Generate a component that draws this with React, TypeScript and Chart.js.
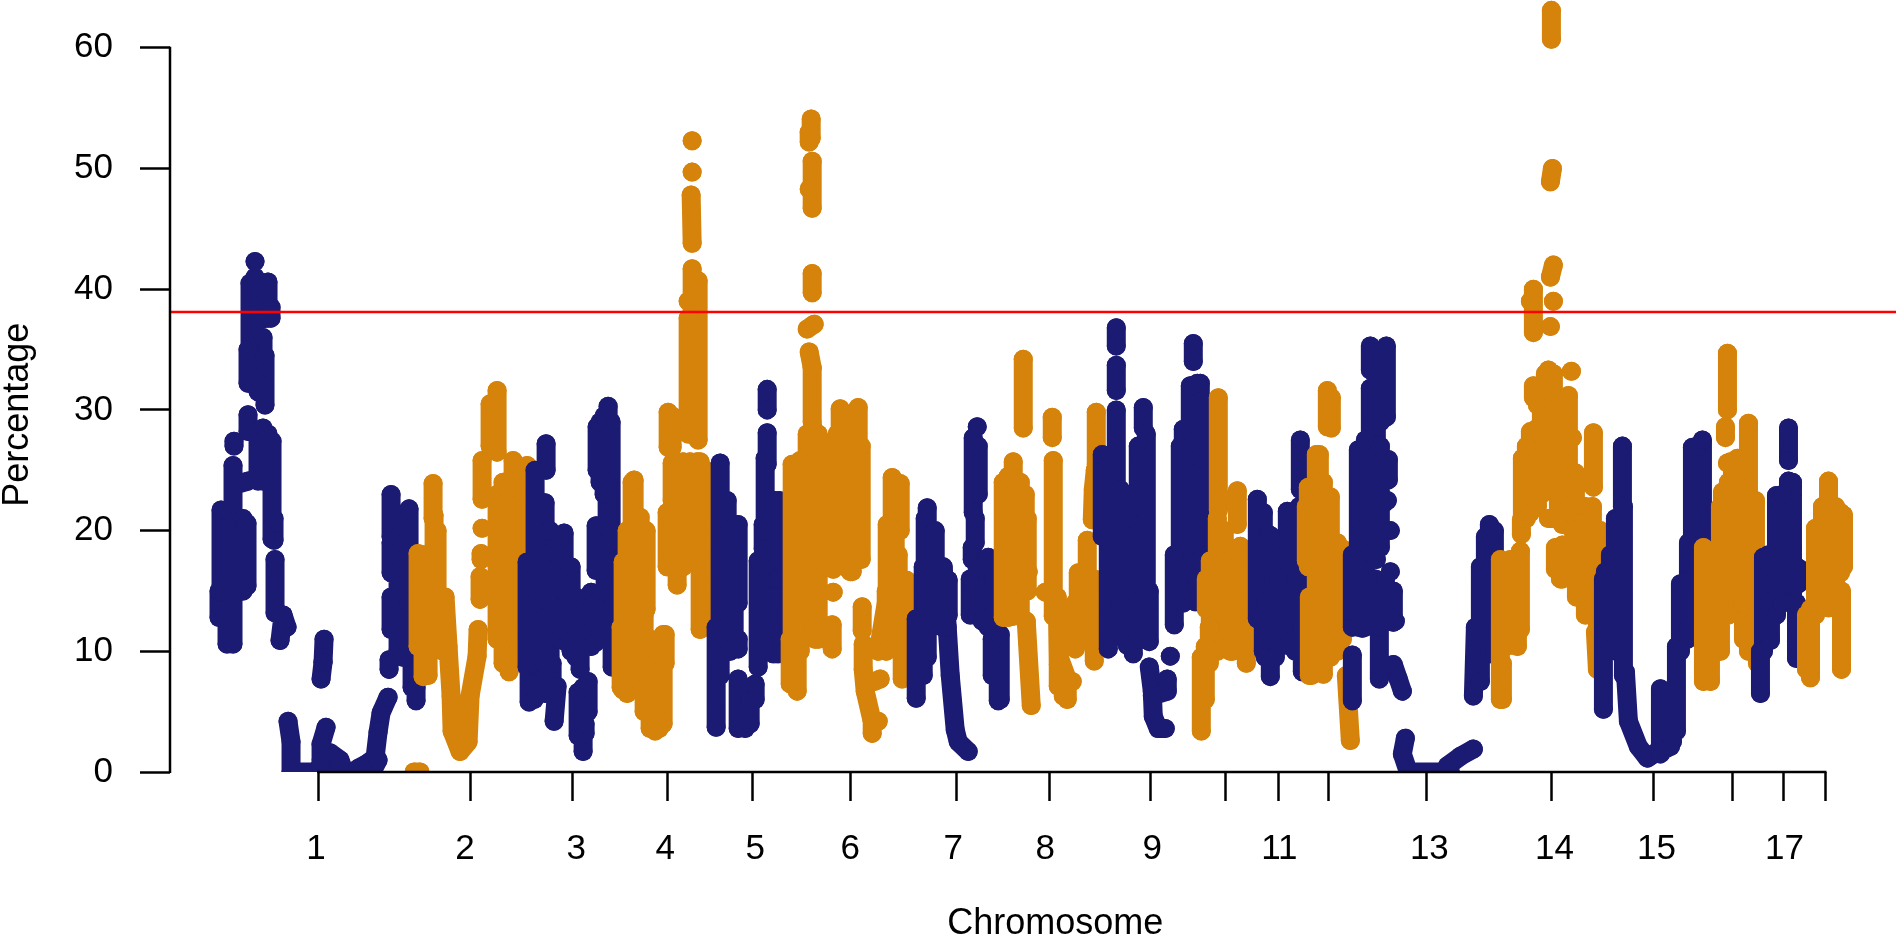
import React, { useEffect, useRef } from "react";
import { Chart, registerables } from "chart.js";

Chart.register(...registerables);

const chrTickPositions = [318, 470, 572, 667, 752, 850, 956, 1049, 1150, 1225, 1278, 1328, 1426, 1551, 1653, 1732, 1783, 1825];
const chrLabelPositions = [316, 465, 576, 665, 755, 850, 953, 1045, 1152, 1279, 1429, 1554, 1656, 1784];
const chrLabels = ["1", "2", "3", "4", "5", "6", "7", "8", "9", "11", "13", "14", "15", "17"];
const percentTicks = [0, 10, 20, 30, 40, 50, 60];
const threshold = 38.1;
const NAVY = "#1C1B73";
const ORANGE = "#D5830B";

// Each chromosome: runs of position,percentage pairs.
const chr1 = [
  [219, 12.8, 219, 15], [221, 15, 221, 21.7], [227, 10.6, 227, 21.7], [233, 10.6, 233, 25.4], [234, 27, 234, 27.4],
  [238, 14.9, 238, 21], [243, 15, 243, 21], [247, 15.4, 247, 20.6], [236, 23.8, 248, 24.1], [258, 24.1, 258, 28], [263, 24.1, 263, 28.5],
  [268, 24, 268, 28], [272, 19.3, 272, 27.4], [275, 17.6, 275, 13.2, 283, 13, 280, 10.9], [283, 13, 287, 12], [274, 19.2, 274, 21],
  [250, 33, 250, 40.5], [255, 32.5, 255, 41], [255, 42.3], [262, 37.5, 262, 40], [268, 37.6, 268, 40.6], [271, 37.6, 271, 38.5],
  [248, 32.2, 248, 35], [258, 31.5, 258, 36], [263, 32, 263, 36], [265, 30.4, 265, 34.5], [248, 28.2, 248, 29.6],
  [291, 0, 291, 2.5, 288, 4.2], [291, 0, 370, 0], [320, 0.5, 330, 1.6, 340, 1, 342, 0.5], [321, 1, 321, 2.3, 326, 3.7],
  [321, 7.7, 323, 9.1], [323, 9.1, 324, 11], [358, 0.3, 367, 0.7, 375, 1.2, 378, 3.3, 381, 4.9, 388, 6.2], [372, 0, 378, 1],
  [391, 19.5, 391, 23], [391, 16.5, 391, 19], [391, 11.8, 391, 14.5], [389, 8.5, 389, 9.3], [398, 10, 398, 19.5], [403, 9.5, 403, 19],
  [409, 14, 409, 21.8], [412, 7, 412, 14], [416, 5.9, 416, 7],
];
const chr2 = [
  [414, 0, 420, 0], [433, 21, 433, 23.9], [434, 14, 434, 21.3], [418, 10.4, 418, 18.1], [423, 7.9, 423, 18], [428, 8, 428, 18], [437, 10.5, 437, 20],
  [445, 14.5, 448, 10.4, 451, 6.3, 452, 3.4, 460, 1.7, 468, 2.5, 470, 6.3, 477, 9.6, 478, 11.8], [443, 10, 443, 14.5], [480, 14.3, 480, 16.2], [481, 17.6, 481, 18.1], [482, 20.2],
  [482, 22.6, 482, 25.8], [490, 27, 490, 30.5], [497, 26.5, 497, 31.6], [497, 11, 497, 23], [503, 9, 503, 24], [509, 8.3, 509, 23.5], [513, 22, 513, 25.8],
  [516, 11, 516, 24], [522, 12, 522, 25], [527, 18, 527, 25.4],
];
const chr3 = [
  [546, 25, 546, 27.2], [535, 14, 535, 25], [545, 18, 545, 22.3], [547, 16, 547, 20], [564, 15, 564, 19.8], [527, 8.7, 527, 17.4], [535, 8.7, 535, 14], [543, 8.5, 543, 18],
  [550, 9, 550, 20], [529, 5.8, 529, 9], [534, 6, 534, 9], [554, 4.2, 557, 7.1], [552, 6.4, 552, 9], [545, 6.5, 545, 9], [558, 11, 558, 18], [565, 10.8, 565, 15], [571, 10, 571, 17],
  [576, 9.5, 576, 14.5], [560, 11, 560, 12], [580, 8.5, 580, 11.5], [578, 3, 578, 6.6], [583, 1.7, 583, 7], [588, 5, 588, 7.5], [585, 3.2, 585, 4],
  [591, 10.4, 591, 14.9], [595, 10.7, 595, 14], [596, 16.7, 596, 20.4], [605, 15, 605, 20.5], [597, 25, 597, 28.6], [600, 24, 600, 29], [604, 23, 604, 29.5], [608, 21, 608, 30.3], [611, 19, 611, 29],
  [607, 19, 607, 24], [612, 8.7, 612, 20],
];
const chr4 = [
  [621, 7, 621, 12], [623, 6.8, 623, 17.4], [627, 6.5, 627, 20], [632, 8, 632, 24], [634, 18, 634, 24.2], [640, 10, 640, 21.1], [646, 13.5, 646, 20], [644, 5, 644, 13],
  [650, 3.6, 650, 11], [655, 3.4, 655, 9], [659, 3.6, 659, 8], [663, 4, 663, 11.4], [665, 9, 665, 11.4], [668, 26.9, 668, 29.8], [672, 26.9, 672, 29.5], [672, 22.5, 672, 25.6],
  [667, 17, 667, 21.5], [675, 17, 675, 25], [677, 15.5, 677, 17], [683, 17, 683, 25.7], [690, 18, 690, 25.7], [697, 18, 697, 25.7], [700, 11.8, 700, 25.7], [705, 13, 705, 25],
  [692, 52.3], [692, 49.7], [691, 47.8, 692, 43.8], [692, 28, 692, 41.7], [698, 27.5, 698, 40.7], [688, 28, 688, 37.6], [688, 39],
];
const chr5 = [
  [720, 8, 720, 25.6], [716, 3.7, 716, 12], [727, 10, 727, 22.5], [734, 11, 734, 20], [738, 14, 738, 20.5], [730, 10, 730, 20], [738, 10.2, 738, 11], [738, 3.6, 738, 7.7], [745, 3.6, 745, 5],
  [750, 4, 750, 6], [755, 6, 755, 7.3], [758, 8.7, 758, 17.5], [770, 12.9, 770, 17.8], [773, 9.8, 773, 16], [778, 9.8, 778, 16], [762, 12, 762, 17], [763, 18.5, 763, 20.5],
  [765, 20, 765, 26], [767, 25.5, 767, 28.1], [767, 30, 767, 31.7], [775, 18, 775, 22.5], [779, 16, 779, 22.5],
];
const chr6 = [
  [790, 7.3, 790, 11], [797, 6.7, 797, 11], [792, 10, 792, 25.5], [800, 10, 800, 25.8], [807, 12, 807, 28], [813, 12, 813, 28.5], [818, 11, 818, 28], [815, 11, 815, 12],
  [812, 29, 812, 33.5], [809, 34.8, 812, 33.5], [807, 36.7, 814, 37.1], [812, 39.7, 812, 41.3], [812, 46.7, 812, 50.6], [809, 48.3], [811, 52.5, 811, 54.1], [809, 52.2, 809, 53],
  [840, 18, 840, 30.1], [858, 18, 858, 30.2], [837, 20, 837, 28], [845, 17, 845, 28], [850, 16.6, 850, 26], [852, 16.6, 852, 28], [861, 17.6, 861, 27], [833, 16.8, 833, 18],
  [827, 17, 827, 21], [833, 14.9], [832, 12.2, 832, 10.2], [862, 13.7, 862, 11.7], [863, 10.6, 863, 8.5, 865, 6.7, 872, 4.2, 872, 3.2], [872, 4.2, 878, 4.2], [880, 7.7, 874, 7.5],
  [892, 18, 892, 24.4], [900, 20, 900, 23.9], [887, 13, 887, 20.5], [895, 13, 895, 20], [906, 11, 906, 15.9], [898, 12.4, 898, 18], [886, 10, 886, 15], [878, 10, 886, 14], [902, 7.7, 902, 12],
];
const chr7 = [
  [927, 9.5, 927, 21.9], [925, 14, 925, 21], [931, 12, 931, 20], [935, 13.9, 935, 20], [943, 17, 947, 12, 950, 8, 955, 3.5, 958, 2.5, 968, 1.7], [948, 13, 948, 15.9], [942, 12, 942, 17],
  [916, 6.1, 916, 12.7], [923, 8, 923, 17], [977, 28.6], [973, 21.5, 973, 27.7], [978, 23, 978, 27], [975, 19, 975, 21], [972, 17.6, 972, 18.6], [970, 13, 970, 16],
  [977, 13, 977, 17], [982, 12.5, 982, 17], [988, 12, 988, 17.8], [993, 11, 993, 16], [992, 8, 992, 11], [998, 5.9, 998, 9], [1000, 6, 1000, 11.4],
];
const chr8 = [
  [1003, 12.8, 1003, 24], [1008, 12.8, 1008, 24.5], [1013, 12.9, 1013, 25.7], [1020, 13, 1020, 24], [1025, 15, 1025, 23], [1027, 15, 1027, 21], [1028, 16.6],
  [1026, 12.5, 1031, 5.5], [1023, 28.5, 1023, 34.2], [1052, 27.7, 1052, 29.4], [1053, 12.9, 1053, 25.8], [1045, 14.9], [1057, 14.5, 1058, 8.9, 1058, 7.1], [1059, 9.5, 1067, 7.7, 1067, 6], [1072, 7.5], [1063, 6.3],
  [1078, 14, 1078, 16.5], [1086, 14, 1086, 15.5], [1075, 10.2, 1075, 14], [1087, 12.5, 1087, 19.2], [1094, 9.2, 1094, 16], [1092, 20.9, 1093, 23.4, 1095, 25], [1096, 25.5, 1096, 29.8],
];
const chr9 = [
  [1102, 19.5, 1102, 26.3], [1110, 20, 1110, 25], [1108, 10.2, 1108, 25.3], [1116, 36.8, 1116, 35.3], [1116, 33.7, 1116, 31.6], [1116, 12, 1116, 30], [1120, 14, 1120, 23.4],
  [1143, 28.5, 1143, 30.2], [1138, 14, 1138, 27], [1146, 14, 1146, 28], [1133, 9.8, 1133, 22], [1141, 11, 1141, 26], [1149, 10.8, 1149, 15], [1127, 10.5, 1127, 21],
  [1149, 8.7, 1152, 6.7, 1153, 4.6, 1158, 3.6, 1165, 3.6], [1152, 6.3, 1167, 6.7, 1167, 7.7], [1170, 9.6], [1174, 12.2, 1174, 18], [1193, 34, 1193, 35.5], [1192, 28, 1192, 32], [1200, 26, 1200, 32.2],
  [1183, 14, 1183, 28.4], [1190, 15, 1190, 32], [1197, 16, 1197, 32.2], [1180, 15, 1180, 27], [1195, 14.1], [1200, 17.5, 1200, 26],
];
const chr10 = [
  [1218, 21.7, 1218, 31], [1217, 10, 1217, 21], [1210, 12, 1210, 17.5], [1206, 13.5, 1206, 16], [1201, 3.4, 1201, 9.5], [1205, 6, 1205, 10.4], [1209, 9, 1209, 12],
  [1230, 10, 1230, 18], [1224, 11, 1224, 20], [1237, 20.5, 1237, 23.3], [1237, 13, 1237, 18], [1240, 14, 1240, 18.7], [1246, 9, 1246, 18], [1232, 10, 1232, 18.5],
];
const chr11 = [
  [1257, 12.7, 1257, 22.6], [1263, 10, 1263, 21.5], [1268, 12, 1268, 19.7], [1270, 7.9, 1270, 19.6], [1265, 9.5, 1265, 14], [1275, 9.5, 1275, 12], [1278, 11, 1278, 16], [1287, 10.5, 1287, 21.6],
  [1283, 12, 1283, 18], [1295, 10, 1295, 20], [1302, 8.3, 1302, 12], [1300, 23.4, 1300, 27.5], [1299, 15, 1299, 22],
];
const chr12 = [
  [1327, 28.6, 1327, 31.6], [1331, 28.5, 1331, 31], [1319, 24, 1319, 26.3], [1308, 17, 1308, 23.6], [1306, 17.5, 1306, 22], [1316, 10, 1316, 26.3], [1323, 9, 1323, 24], [1330, 9.5, 1330, 22.8],
  [1337, 10, 1337, 19], [1342, 11, 1342, 18.5], [1311, 8, 1311, 14], [1309, 8, 1309, 14.5], [1323, 8.1, 1323, 9], [1346, 8, 1350, 2.6],
];
const chr13 = [
  [1352, 5.9, 1352, 9.7], [1352, 12, 1352, 18], [1362, 11.9, 1362, 20], [1358, 12, 1358, 26.7], [1365, 12, 1365, 27.5], [1370, 18, 1370, 31.8], [1370, 33.3, 1370, 35.3], [1376, 27, 1376, 32],
  [1386, 29.4, 1386, 35.3], [1380, 29, 1380, 32], [1388, 24.2, 1388, 25.9], [1380, 18.6, 1380, 27], [1380, 22, 1387, 22.5], [1390, 20], [1376, 17.6], [1390, 16.6], [1375, 12.4, 1375, 16],
  [1385, 13, 1385, 16], [1393, 12.4, 1393, 15], [1395, 12.5], [1379, 7.7, 1379, 12], [1393, 8.9, 1398, 7.7, 1402, 6.7], [1405, 2.8, 1402, 1.5, 1408, 0, 1450, 0], [1447, 0.5, 1460, 1.3, 1473, 1.9],
  [1473, 6.3, 1475, 12], [1480, 7.5, 1480, 17], [1485, 9.8, 1485, 19.5], [1489, 9.8, 1489, 20.5], [1494, 9.8, 1494, 20],
];
const chr14 = [
  [1500, 6, 1500, 17.6], [1502, 6, 1502, 9], [1510, 10.5, 1510, 17.6], [1517, 10.4, 1517, 17.5], [1520, 11.8, 1520, 18.3], [1521, 19.7, 1521, 20.9], [1522, 21, 1522, 26], [1526, 21, 1526, 27], [1530, 21.5, 1530, 28.2],
  [1537, 22, 1537, 28.5], [1541, 23, 1541, 31], [1545, 23.5, 1545, 33], [1548, 23.8, 1548, 33.3], [1533, 32, 1533, 31], [1537, 30.4], [1550, 32.2], [1553, 26.5, 1553, 33], [1556, 26.5, 1556, 30], [1571, 33.2], [1568, 25, 1568, 31.2], [1572, 27.7], [1562, 20.5, 1562, 29], [1565, 20.5, 1565, 27], [1558, 21, 1558, 23],
  [1548, 21, 1557, 21], [1560, 16], [1555, 16.8, 1555, 18.6], [1562, 16, 1562, 18.8], [1572, 20, 1572, 24], [1575, 20, 1575, 24.8], [1576, 14.5, 1576, 22], [1581, 14.9, 1581, 22], [1585, 13, 1585, 22], [1592, 13, 1592, 22],
  [1593, 23.6, 1593, 28.1], [1597, 8.5, 1595, 11.6], [1597, 11, 1597, 20], [1600, 13, 1600, 20], [1533, 36.4, 1533, 40], [1530, 39], [1550, 36.9], [1553, 39], [1550, 41, 1553, 42], [1552, 50, 1550, 48.9], [1551, 60.7, 1551, 63.1],
];
const chr15 = [
  [1622, 22, 1622, 27], [1615, 11, 1615, 21], [1610, 10, 1610, 18], [1605, 12, 1605, 16.6], [1603, 5.2, 1603, 16], [1618, 10, 1618, 21], [1623, 8, 1623, 22], [1625, 8.3, 1628, 4.2, 1638, 2.1, 1647, 1.15, 1657, 1.7],
  [1660, 1.5, 1660, 6.9], [1667, 2, 1667, 6], [1672, 2.5, 1672, 5], [1670, 2.1], [1676, 3.4, 1676, 10.4], [1680, 10, 1680, 15.6], [1687, 11, 1687, 16], [1692, 16, 1692, 26.9], [1697, 17, 1697, 27], [1702, 17, 1702, 27.5], [1688, 12, 1688, 19],
];
const chr16 = [
  [1703, 7.5, 1703, 18.6], [1710, 7.5, 1710, 18], [1720, 10, 1720, 22], [1715, 10, 1715, 18], [1722, 13, 1722, 23.2], [1728, 13, 1728, 24], [1730, 25.7], [1732, 14, 1732, 25], [1737, 14, 1737, 26], [1727, 25.6], [1742, 14, 1742, 25], [1748, 10, 1748, 28.9],
  [1743, 11, 1743, 14], [1755, 13, 1755, 22.5], [1757, 9, 1757, 13], [1725, 27.7, 1725, 28.6], [1727, 30, 1727, 34.7],
];
const chr17 = [
  [1760, 6.5, 1760, 10], [1763, 10, 1763, 17.8], [1768, 14, 1768, 18], [1770, 10.9, 1770, 17], [1788, 25.8, 1788, 28.5], [1776, 13, 1776, 22.9], [1788, 14.1, 1788, 24.1], [1792, 14, 1792, 24], [1782, 14, 1782, 23], [1798, 15.6, 1798, 16.9], [1796, 9.4, 1796, 14],
];
const chr18 = [
  [1806, 8.5, 1806, 13], [1810, 7.8, 1810, 13.5], [1815, 13, 1815, 20.2], [1819, 14, 1819, 20.2], [1822, 14, 1822, 22], [1828, 13.6, 1828, 24.1], [1835, 13.6, 1835, 22], [1843, 17, 1843, 21.3], [1840, 16.5, 1840, 21.5], [1841, 8.5, 1841, 15],
];

const chromosomes = [chr1, chr2, chr3, chr4, chr5, chr6, chr7, chr8, chr9, chr10, chr11, chr12, chr13, chr14, chr15, chr16, chr17, chr18];

function toPoints(runs: number[][]) {
  const pts: { x: number; y: number | null }[] = [];
  for (const run of runs) {
    for (let i = 0; i < run.length; i += 2) pts.push({ x: run[i], y: run[i + 1] });
    pts.push({ x: run[run.length - 2], y: null });
  }
  return pts;
}

const FONT = "'Liberation Sans', Arial, sans-serif";
const DOT = 9.5;

const axisLines = {
  id: "axisLines",
  afterDatasetsDraw(chart: any) {
    const { ctx, scales } = chart;
    const { x, y } = scales;
    ctx.save();
    ctx.strokeStyle = "#000";
    ctx.lineWidth = 2.5;
    ctx.beginPath();
    ctx.moveTo(x.getPixelForValue(x.min), y.getPixelForValue(60) - 1);
    ctx.lineTo(x.getPixelForValue(x.min), y.getPixelForValue(0) + 1);
    ctx.moveTo(x.getPixelForValue(chrTickPositions[0]) - 1, y.getPixelForValue(0));
    ctx.lineTo(x.getPixelForValue(chrTickPositions[17]) + 1, y.getPixelForValue(0));
    ctx.stroke();
    ctx.fillStyle = "#000";
    ctx.font = `36px ${FONT}`;
    ctx.textAlign = "center";
    ctx.textBaseline = "alphabetic";
    ctx.fillText("Chromosome", x.getPixelForValue(1055), y.getPixelForValue(0) + 162);
    ctx.translate(28, y.getPixelForValue(29.6));
    ctx.rotate(-Math.PI / 2);
    ctx.fillText("Percentage", 0, 0);
    ctx.restore();
  },
};

export default function App() {
  const ref = useRef<HTMLCanvasElement | null>(null);
  useEffect(() => {
    document.body.style.margin = "0";
    const zeroPad = (s: any) => {
      s.paddingLeft = 0;
      s.paddingRight = 0;
      s.paddingTop = 0;
      s.paddingBottom = 0;
    };
    const chart = new Chart(ref.current as HTMLCanvasElement, {
      type: "scatter",
      plugins: [axisLines],
      data: {
        datasets: [
          {
            label: "threshold",
            data: [{ x: 170, y: threshold }, { x: 1896, y: threshold }],
            showLine: true,
            borderColor: "#FF0000",
            borderWidth: 2.5,
            pointRadius: 0,
            order: -1,
          } as any,
          ...chromosomes.map((runs, i) => ({
            label: `Chromosome ${i + 1}`,
            data: toPoints(runs),
            showLine: true,
            spanGaps: false,
            borderColor: i % 2 ? ORANGE : NAVY,
            backgroundColor: i % 2 ? ORANGE : NAVY,
            borderWidth: DOT * 2,
            borderCapStyle: "round",
            borderJoinStyle: "round",
            pointRadius: DOT,
            pointBorderWidth: 0,
            pointHoverRadius: DOT,
            clip: 0,
            order: chromosomes.length - i,
          })) as any,
        ],
      },
      options: {
        animation: false,
        responsive: false,
        devicePixelRatio: 1,
        layout: { padding: 0 },
        events: [],
        plugins: { legend: { display: false }, tooltip: { enabled: false }, title: { display: false } },
        scales: {
          x: {
            type: "linear",
            position: "bottom",
            weight: 0,
            min: 170,
            max: 1896,
            afterBuildTicks: (s: any) => { s.ticks = chrTickPositions.map((value) => ({ value })); },
            afterFit: (s: any) => { s.height = 30; zeroPad(s); },
            ticks: { display: false },
            grid: { drawOnChartArea: false, drawTicks: true, tickLength: 29, tickColor: "#000", tickWidth: 2.5, color: "#000" },
            border: { display: false },
          },
          x2: {
            type: "linear",
            axis: "x",
            position: "bottom",
            weight: 1,
            min: 170,
            max: 1896,
            afterBuildTicks: (s: any) => { s.ticks = chrLabelPositions.map((value) => ({ value })); },
            afterFit: (s: any) => { s.height = 135; zeroPad(s); },
            ticks: {
              autoSkip: false,
              maxRotation: 0,
              minRotation: 0,
              padding: 26,
              color: "#000",
              font: { family: FONT, size: 35 },
              callback: (_v: any, i: number) => chrLabels[i],
            },
            grid: { display: false, drawTicks: false },
            border: { display: false },
          },
          y: {
            type: "linear",
            position: "left",
            min: 0,
            max: 64,
            afterBuildTicks: (s: any) => { s.ticks = percentTicks.map((value) => ({ value })); },
            afterFit: (s: any) => { s.width = 170; zeroPad(s); },
            ticks: { padding: 27, color: "#000", font: { family: FONT, size: 35 }, callback: (v: any) => String(v) },
            grid: { drawOnChartArea: false, drawTicks: true, tickLength: 30, tickColor: "#000", tickWidth: 2.5, color: "#000" },
            border: { display: false },
          },
        },
      },
    } as any);
    return () => chart.destroy();
  }, []);
  return (
    <div style={{ width: 1896, height: 937, overflow: "hidden", background: "#fff", position: "relative" }}>
      <canvas ref={ref} width={1906} height={947} style={{ display: "block", position: "absolute", left: 0, top: -10 }} />
    </div>
  );
}
